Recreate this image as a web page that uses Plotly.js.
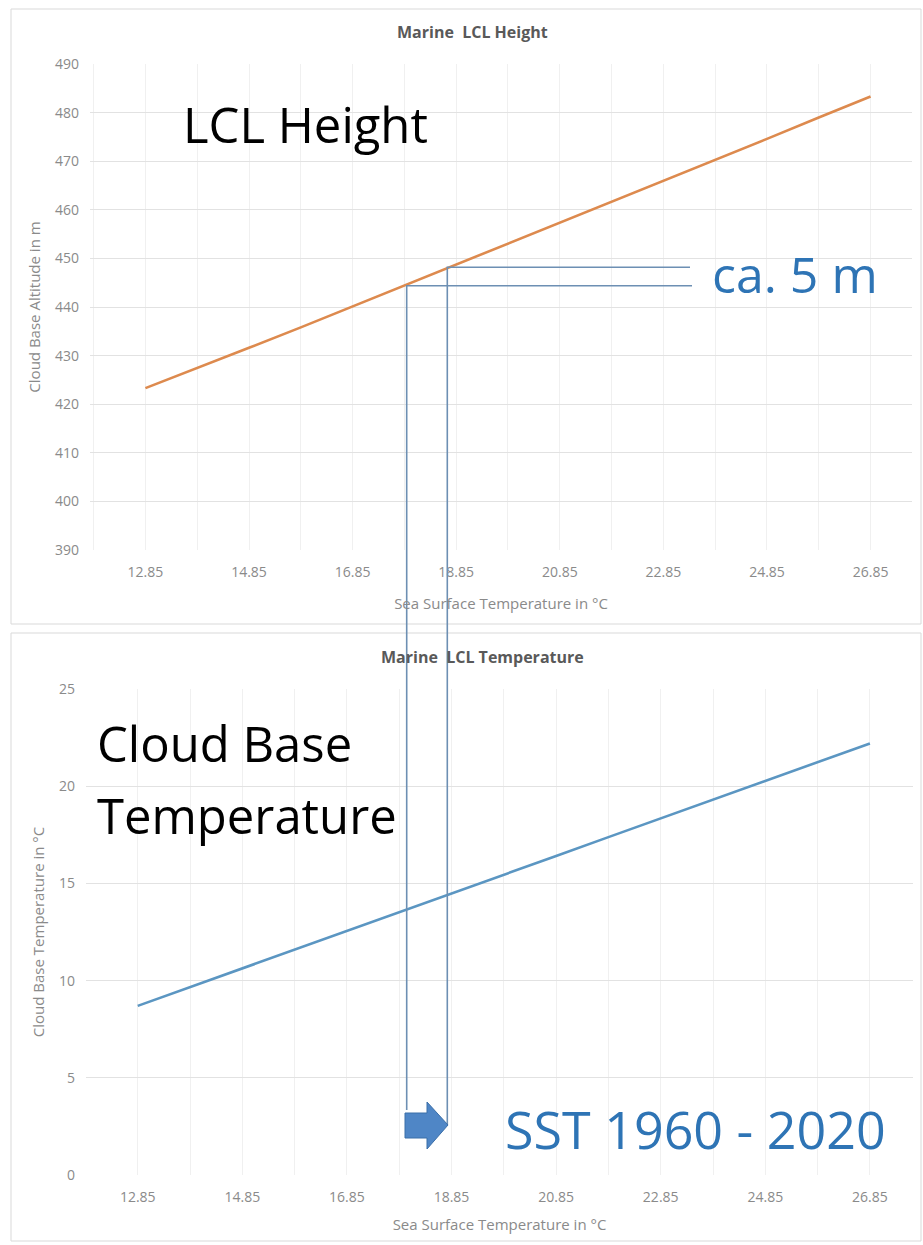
<!DOCTYPE html>
<html>
<head>
<meta charset="utf-8">
<script src="https://cdn.plot.ly/plotly-3.0.1.min.js"></script>
<style>html,body{margin:0;padding:0;background:#fff;}#chart{width:923px;height:1245px;}</style>
</head>
<body>
<div id="chart"></div>
<script>
// ---- data ----
const sst = [12.85, 13.85, 14.85, 15.85, 16.85, 17.85, 18.85, 19.85, 20.85, 21.85, 22.85, 23.85, 24.85, 25.85, 26.85];
const lclHeight = [423.3, 427.4, 431.6, 435.8, 440.1, 444.4, 448.7, 453.0, 457.3, 461.6, 465.9, 470.3, 474.6, 479.0, 483.3];
const lclTemp = [8.70, 9.66, 10.63, 11.59, 12.56, 13.52, 14.49, 15.45, 16.41, 17.38, 18.34, 19.31, 20.27, 21.24, 22.20];
const xTickVals = [11.85, 12.85, 13.85, 14.85, 15.85, 16.85, 17.85, 18.85, 19.85, 20.85, 21.85, 22.85, 23.85, 24.85, 25.85, 26.85, 27.85];
const xTickText = ['', '12.85', '', '14.85', '', '16.85', '', '18.85', '', '20.85', '', '22.85', '', '24.85', '', '26.85', ''];
const titleTop = 'Marine\u00a0 LCL Height';
const titleBottom = 'Marine\u00a0 LCL Temperature';
const xTitle = 'Sea Surface Temperature in °C';
const yTitleTop = 'Cloud Base Altitude in m';
const yTitleBottom = 'Cloud Base Temperature in °C';

// ---- layout helpers (pixel -> paper) ----
const W = 923, H = 1245;
const px = x => x / W;
const py = y => 1 - y / H;

const FONT = 'Open Sans, Noto Sans, sans-serif';
const tickFont = {family: FONT, size: 14, color: '#8a8a8a'};
const axTitleFont = {family: FONT, size: 15, color: '#8a8a8a'};
const bigFont = {family: FONT, size: 49, color: '#000000'};
const blueFont = {family: FONT, size: 50, color: '#2e74b5'};
const guide = '#6d8fb3';

const traces = [
  {x: sst, y: lclHeight, xaxis: 'x', yaxis: 'y', type: 'scatter', mode: 'lines',
   line: {color: '#dd8a4e', width: 2.6}, hoverinfo: 'skip'},
  {x: sst, y: lclTemp, xaxis: 'x2', yaxis: 'y2', type: 'scatter', mode: 'lines',
   line: {color: '#5b96c2', width: 2.6}, hoverinfo: 'skip'}
];

function xAxis(domain, range, anchor, standoff) {
  return {domain: domain, range: range, anchor: anchor, tickmode: 'array',
    tickvals: xTickVals, ticktext: xTickText, showgrid: true, gridcolor: '#f0f0f0', gridwidth: 1,
    zeroline: false, showline: false, ticks: '', tickfont: tickFont, ticklabelstandoff: 12,
    title: {text: xTitle, font: axTitleFont, standoff: standoff}, fixedrange: true};
}
function yAxis(domain, range, dtick, anchor, title) {
  return {domain: domain, range: range, anchor: anchor, dtick: dtick, tick0: range[0],
    showgrid: true, gridcolor: '#e2e2e2', gridwidth: 1, zeroline: false, showline: false,
    ticks: '', tickfont: tickFont, ticklabelstandoff: 10,
    title: {text: title, font: axTitleFont, standoff: 10}, fixedrange: true};
}

const layout = {
  width: W, height: H,
  margin: {l: 0, r: 0, t: 0, b: 0},
  paper_bgcolor: '#ffffff', plot_bgcolor: '#ffffff',
  showlegend: false,
  xaxis: xAxis([px(90), px(912)], [11.78, 27.65], 'y', 18),
  yaxis: yAxis([py(550), py(64)], [390, 490], 10, 'x', yTitleTop),
  xaxis2: xAxis([px(86), px(913)], [11.861, 27.674], 'y2', 14),
  yaxis2: yAxis([py(1175), py(689)], [0, 25], 5, 'x2', yTitleBottom),
  shapes: [
    // panel frames
    {type: 'rect', xref: 'paper', yref: 'paper', x0: px(11), x1: px(921), y0: py(624), y1: py(9),
     line: {color: '#d9d9d9', width: 1}},
    {type: 'rect', xref: 'paper', yref: 'paper', x0: px(11), x1: px(921), y0: py(1241), y1: py(633),
     line: {color: '#d9d9d9', width: 1}},
    // guide lines
    {type: 'path', xref: 'paper', yref: 'paper',
     path: `M ${px(406.7)},${py(1110)} L ${px(406.7)},${py(285.7)} L ${px(692)},${py(285.7)}`,
     line: {color: guide, width: 1.6}},
    {type: 'path', xref: 'paper', yref: 'paper',
     path: `M ${px(447.3)},${py(1125)} L ${px(447.3)},${py(267.3)} L ${px(690)},${py(267.3)}`,
     line: {color: guide, width: 1.6}},
    // block arrow
    {type: 'path', xref: 'paper', yref: 'paper',
     path: `M ${px(405)},${py(1113)} L ${px(427)},${py(1113)} L ${px(427)},${py(1102)} L ${px(448)},${py(1125)} L ${px(427)},${py(1149)} L ${px(427)},${py(1138)} L ${px(405)},${py(1138)} Z`,
     fillcolor: '#4f86c6', line: {color: '#3a6ea8', width: 1}}
  ],
  annotations: [
    {xref: 'paper', yref: 'paper', x: px(472), y: py(32), xanchor: 'center', yanchor: 'middle', showarrow: false,
     text: '<b>' + titleTop + '</b>', font: {family: FONT, size: 16, color: '#595959'}},
    {xref: 'paper', yref: 'paper', x: px(482), y: py(657), xanchor: 'center', yanchor: 'middle', showarrow: false,
     text: '<b>' + titleBottom + '</b>', font: {family: FONT, size: 16, color: '#595959'}},
    {xref: 'paper', yref: 'paper', x: px(181), y: py(124), xanchor: 'left', yanchor: 'middle', showarrow: false,
     text: 'LCL Height', font: bigFont},
    {xref: 'paper', yref: 'paper', x: px(95), y: py(743), xanchor: 'left', yanchor: 'middle', showarrow: false,
     text: 'Cloud Base', font: bigFont},
    {xref: 'paper', yref: 'paper', x: px(95), y: py(815), xanchor: 'left', yanchor: 'middle', showarrow: false,
     text: 'Temperature', font: bigFont},
    {xref: 'paper', yref: 'paper', x: px(710), y: py(274), xanchor: 'left', yanchor: 'middle', showarrow: false,
     text: 'ca. 5 m', font: blueFont},
    {xref: 'paper', yref: 'paper', x: px(503), y: py(1128), xanchor: 'left', yanchor: 'middle', showarrow: false,
     text: 'SST 1960 - 2020', font: {family: FONT, size: 52, color: '#2e74b5'}}
  ]
};

Plotly.newPlot('chart', traces, layout, {staticPlot: true, displayModeBar: false});
</script>
</body>
</html>
